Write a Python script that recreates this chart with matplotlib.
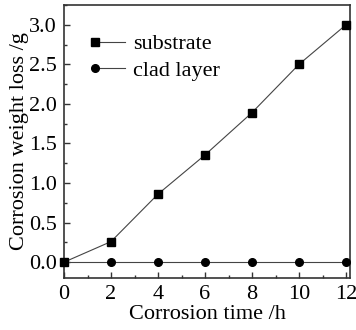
import matplotlib
matplotlib.use("Agg")
import matplotlib.pyplot as plt
from matplotlib.lines import Line2D
from matplotlib.legend_handler import HandlerLine2D
from matplotlib.ticker import MultipleLocator

hours = [0, 2, 4, 6, 8, 10, 12]
substrate = [0.0, 0.26, 0.86, 1.355, 1.89, 2.50, 3.0]
clad_layer = [0.0, 0.0, 0.0, 0.0, 0.0, 0.0, 0.0]

plt.rcParams["font.family"] = ["Liberation Serif", "DejaVu Serif"]
plt.rcParams["font.size"] = 16


class MarkerFirst(HandlerLine2D):
    # Origin-style legend entry: marker sits at the left end of the line
    def create_artists(self, legend, orig_handle, xdescent, ydescent,
                       width, height, fontsize, trans):
        y = (height - ydescent) / 2
        line = Line2D([-xdescent, -xdescent + width], [y, y])
        self.update_prop(line, orig_handle, legend)
        line.set_marker("None")
        mark = Line2D([-xdescent], [y])
        self.update_prop(mark, orig_handle, legend)
        mark.set_linestyle("None")
        line.set_transform(trans)
        mark.set_transform(trans)
        return [line, mark]


fig = plt.figure(figsize=(3.56, 3.30), dpi=100)
ax = fig.add_axes([64 / 356, 52 / 330, 286 / 356, 273 / 330])

ax.plot(hours, substrate, color="#444444", linewidth=0.8, marker="s",
        markersize=5.3, markerfacecolor="black", markeredgecolor="black",
        label="substrate", clip_on=False, zorder=3)
ax.plot(hours, clad_layer, color="#444444", linewidth=0.8, marker="o",
        markersize=5.5, markerfacecolor="black", markeredgecolor="black",
        label="clad layer", clip_on=False, zorder=3)

ax.set_xlim(0, 12.17)
ax.set_ylim(-0.2, 3.25)
ax.xaxis.set_major_locator(MultipleLocator(2))
ax.xaxis.set_minor_locator(MultipleLocator(1))
ax.yaxis.set_major_locator(MultipleLocator(0.5))
ax.yaxis.set_minor_locator(MultipleLocator(0.25))
ax.tick_params(which="both", direction="in", top=False, right=False,
               width=1, color="#333333")
ax.tick_params(which="major", length=4)
ax.tick_params(which="minor", length=2.5)
ax.tick_params(axis="x", pad=5)
ax.tick_params(axis="y", pad=5)
for s in ax.spines.values():
    s.set_linewidth(1.2)
    s.set_color("#333333")

ax.set_xlabel("Corrosion time /h", labelpad=1)
ax.set_ylabel("Corrosion weight loss /g", labelpad=0)

ax.legend(loc="upper left", frameon=False, handlelength=1.35, handletextpad=0.38,
          labelspacing=0.27, bbox_to_anchor=(0.077, 0.927), borderaxespad=0,
          handler_map={Line2D: MarkerFirst()})

fig.savefig("out.png", dpi=100)
